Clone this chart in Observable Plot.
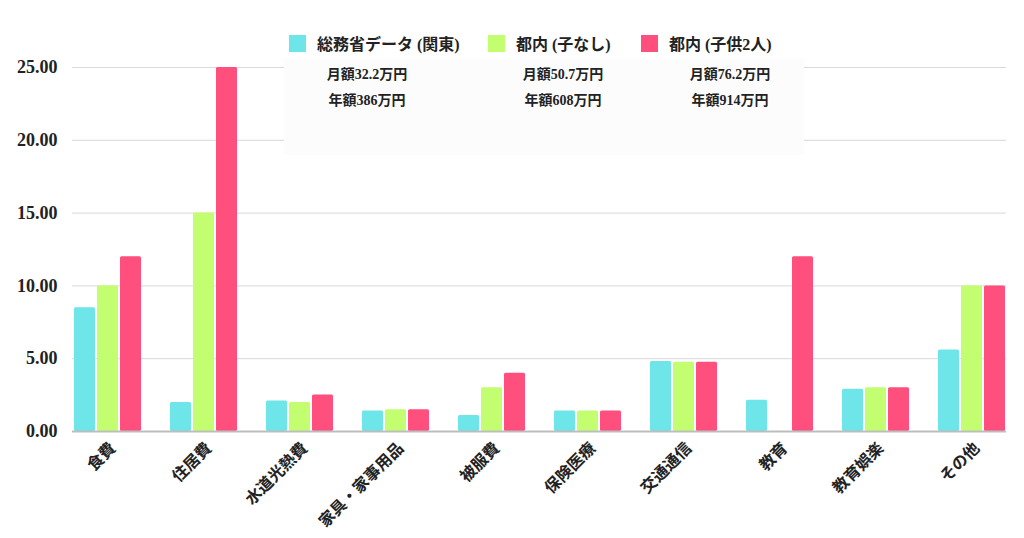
<!DOCTYPE html>
<html>
<head>
<meta charset="utf-8">
<script src="https://cdn.jsdelivr.net/npm/d3@7"></script>
<script src="https://cdn.jsdelivr.net/npm/@observablehq/plot@0.6"></script>
<style>
  body { margin: 0; background: #fff; }
  #wrap { position: relative; width: 1024px; height: 538px; overflow: hidden;
    font-family: "Liberation Serif", "DejaVu Serif", "Noto Sans CJK JP", serif; font-weight: bold; color: #222; }
  #legend { position: relative; height: 56px; }
  .lg { position: absolute; top: 31px; display: flex; align-items: center; font-size: 16px; white-space: nowrap; }
  .sw { width: 17px; height: 17px; margin-right: 11px; }
  #note { position: absolute; left: 284px; top: 58px; width: 520px; height: 97px; background: #fcfcfc; z-index: 2; }
  .nt { position: absolute; transform: translate(-50%, -50%); font-size: 14px; white-space: nowrap; }
</style>
</head>
<body>
<div id="wrap">
  <div id="legend"></div>
  <div id="note"></div>
  <div id="chart"></div>
</div>
<script>
const categories = ["食費","住居費","水道光熱費","家具・家事用品","被服費","保険医療","交通通信","教育","教育娯楽","その他"];
const seriesNames = ["総務省データ (関東)", "都内 (子なし)", "都内 (子供2人)"];
const seriesColors = ["#6de5e9", "#c2fe6f", "#fe4f7d"];
const soumu   = [8.5, 2.0, 2.1, 1.4, 1.1, 1.4, 4.8, 2.15, 2.9, 5.6];
const noKids  = [10, 15, 2.0, 1.5, 3.0, 1.4, 4.75, 0, 3.0, 10];
const twoKids = [12, 25, 2.5, 1.5, 4.0, 1.4, 4.75, 12, 3.0, 10];
const monthly = ["月額32.2万円", "月額50.7万円", "月額76.2万円"];
const yearly  = ["年額386万円", "年額608万円", "年額914万円"];
const yTicks = [0, 5, 10, 15, 20, 25];

const seriesValues = [soumu, noKids, twoKids];
const rows = seriesValues.map(vals => categories.map((c, i) => ({category: c, value: vals[i]})));

// legend
const legend = document.getElementById("legend");
const legendLeft = [289, 488, 641];
seriesNames.forEach((n, i) => {
  const d = document.createElement("div");
  d.className = "lg";
  d.style.left = legendLeft[i] + "px";
  d.innerHTML = `<span class="sw" style="background:${seriesColors[i]}"></span><span>${n}</span>`;
  legend.appendChild(d);
});

// annotation box
const note = document.getElementById("note");
const noteX = [83, 279, 446];
seriesNames.forEach((n, i) => {
  [[monthly[i], 15], [yearly[i], 41]].forEach(([t, y]) => {
    const s = document.createElement("span");
    s.className = "nt";
    s.style.left = noteX[i] + "px";
    s.style.top = y + "px";
    s.textContent = t;
    note.appendChild(s);
  });
});

const insets = [[0, 46], [23, 23], [46, 0]];

const chart = Plot.plot({
  width: 1024,
  height: 482,
  marginTop: 11,
  marginBottom: 107,
  marginLeft: 72,
  marginRight: 18,
  style: {fontFamily: '"Liberation Serif", "Noto Sans CJK JP", serif', fontWeight: "bold", fontSize: "16px", color: "#222", background: "transparent"},
  x: {domain: categories, paddingInner: 0.3045, paddingOuter: 0, label: null},
  y: {domain: [0, 25], label: null},
  marks: [
    Plot.gridY(yTicks, {stroke: "#d8d8d8", strokeOpacity: 1}),
    ...rows.map((data, i) => Plot.barY(data, {
      x: "category", y: "value", fill: seriesColors[i],
      insetLeft: insets[i][0], insetRight: insets[i][1], rx: 1.5
    })),
    Plot.ruleY([0], {stroke: "#bdbdbd", strokeWidth: 2}),
    Plot.axisY(yTicks, {tickSize: 0, tickPadding: 15, tickFormat: d3.format(".2f"), fontSize: 18, fill: "#222", label: null}),
    Plot.axisX({tickSize: 0, tickRotate: -45, tickPadding: 14, dx: 5, fontSize: 16, fill: "#222", label: null})
  ]
});
document.getElementById("chart").appendChild(chart);
</script>
</body>
</html>
